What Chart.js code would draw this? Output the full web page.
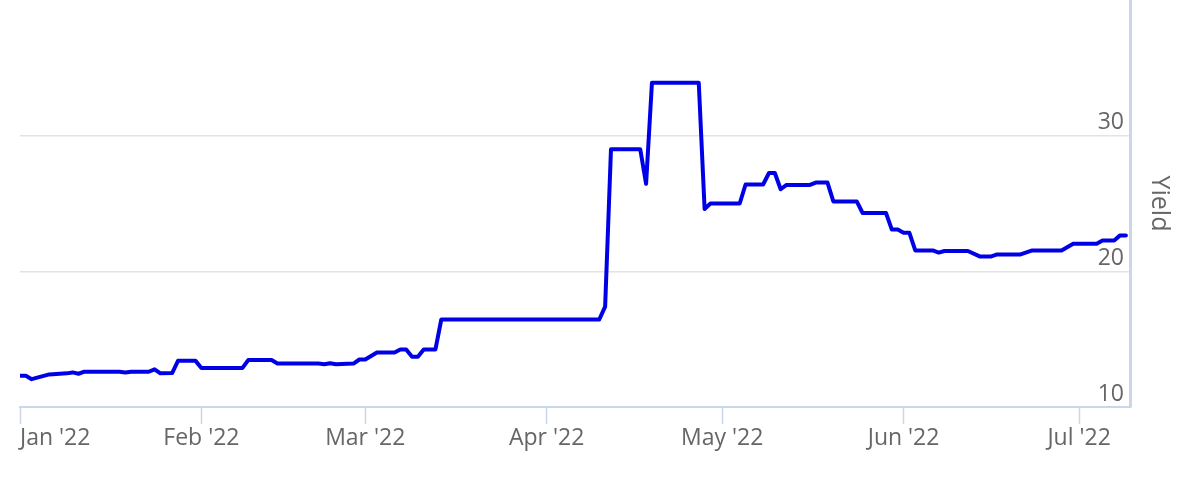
<!DOCTYPE html>
<html>
<head>
<meta charset="utf-8">
<script src="https://cdn.jsdelivr.net/npm/chart.js@4/dist/chart.umd.min.js"></script>
<style>
  html, body { margin: 0; padding: 0; background: #ffffff; }
  #wrap { width: 1200px; height: 490px; position: relative; }
</style>
</head>
<body>
<div id="wrap"><canvas id="c"></canvas></div>
<script>
// ---- data ----
const dates = [
  '2022-01-01','2022-01-02','2022-01-03','2022-01-06','2022-01-09','2022-01-10','2022-01-11','2022-01-12',
  '2022-01-18','2022-01-19','2022-01-20','2022-01-23','2022-01-24','2022-01-25','2022-01-27','2022-01-28',
  '2022-01-31','2022-02-01','2022-02-08','2022-02-09','2022-02-13','2022-02-14','2022-02-21','2022-02-22',
  '2022-02-23','2022-02-24','2022-02-27','2022-02-28','2022-03-01','2022-03-03','2022-03-06','2022-03-07',
  '2022-03-08','2022-03-09','2022-03-10','2022-03-11','2022-03-13','2022-03-14','2022-04-10','2022-04-11',
  '2022-04-12','2022-04-17','2022-04-18','2022-04-19','2022-04-27','2022-04-28','2022-04-29','2022-05-04',
  '2022-05-05','2022-05-08','2022-05-09','2022-05-10','2022-05-11','2022-05-12','2022-05-16','2022-05-17',
  '2022-05-19','2022-05-20','2022-05-24','2022-05-25','2022-05-29','2022-05-30','2022-05-31','2022-06-01',
  '2022-06-02','2022-06-03','2022-06-06','2022-06-07','2022-06-08','2022-06-12','2022-06-14','2022-06-16',
  '2022-06-17','2022-06-21','2022-06-23','2022-06-28','2022-06-30','2022-07-04','2022-07-05','2022-07-07',
  '2022-07-08','2022-07-09'
];
const yieldValues = [
  12.3, 12.3, 12.05, 12.4, 12.48, 12.55, 12.45, 12.6,
  12.6, 12.55, 12.6, 12.6, 12.78, 12.48, 12.5, 13.4,
  13.4, 12.87, 12.87, 13.46, 13.46, 13.2, 13.2, 13.15,
  13.22, 13.15, 13.2, 13.5, 13.5, 14.02, 14.02, 14.24,
  14.24, 13.7, 13.7, 14.24, 14.24, 16.45, 16.45, 17.4,
  29.0, 29.0, 26.45, 33.9, 33.9, 24.6, 25.0, 25.0,
  26.4, 26.4, 27.25, 27.25, 26.05, 26.37, 26.37, 26.54,
  26.54, 25.15, 25.15, 24.3, 24.3, 23.08, 23.08, 22.84,
  22.84, 21.54, 21.54, 21.38, 21.5, 21.5, 21.1, 21.1,
  21.25, 21.25, 21.54, 21.54, 22.04, 22.04, 22.28, 22.28,
  22.65, 22.65
];
const xTickDates = ['2022-01-01','2022-02-01','2022-03-01','2022-04-01','2022-05-01','2022-06-01','2022-07-01'];
const xTickLabels = ["Jan '22","Feb '22","Mar '22","Apr '22","May '22","Jun '22","Jul '22"];
const yTickValues = [10, 20, 30];
const yAxisTitle = 'Yield';
const xStartDate = '2022-01-01';
const xEndDate = '2022-07-10';

// ---- helpers ----
const DAY = 86400000;
function dayOf(s) { return (Date.parse(s + 'T00:00:00Z') - Date.parse(xStartDate + 'T00:00:00Z')) / DAY; }
const points = dates.map((d, i) => ({ x: dayOf(d), y: yieldValues[i] }));
const xTickDays = xTickDates.map(dayOf);
const xMax = dayOf(xEndDate) - 0.3;

const FONT = "'Open Sans', 'DejaVu Sans', sans-serif";
const AXIS_COLOR = '#ccd6eb';
const TEXT_COLOR = '#666666';

new Chart(document.getElementById('c'), {
  type: 'line',
  data: {
    datasets: [{
      data: points,
      borderColor: '#0000e6',
      borderWidth: 4,
      pointRadius: 0,
      pointHoverRadius: 0,
      tension: 0,
      fill: false,
      borderJoinStyle: 'round',
      borderCapStyle: 'round'
    }]
  },
  options: {
    responsive: true,
    maintainAspectRatio: false,
    animation: false,
    layout: { padding: { left: 20, right: 0, top: 0, bottom: 0 } },
    plugins: { legend: { display: false }, tooltip: { enabled: false } },
    scales: {
      x: {
        type: 'linear',
        position: 'bottom',
        min: 0,
        max: xMax,
        afterBuildTicks: (scale) => {
          scale.ticks = xTickDays.map(v => ({ value: v })).concat([{ value: xMax }]);
        },
        afterFit: (scale) => {
          scale.height = 83;
          scale.paddingLeft = 0;
          scale.paddingRight = 0;
        },
        grid: {
          drawOnChartArea: false,
          drawTicks: true,
          tickLength: 17,
          tickWidth: 1.5,
          tickColor: (ctx) => (ctx.index >= xTickDays.length ? 'rgba(0,0,0,0)' : AXIS_COLOR)
        },
        border: { display: true, color: AXIS_COLOR, width: 2 },
        ticks: {
          autoSkip: false,
          maxRotation: 0,
          minRotation: 0,
          align: 'inner',
          padding: 1,
          color: TEXT_COLOR,
          font: { family: FONT, size: 23 },
          callback: (value, index) => (index < xTickLabels.length ? xTickLabels[index] : '')
        }
      },
      y: {
        type: 'linear',
        position: 'right',
        min: 10,
        max: 40,
        afterBuildTicks: (scale) => {
          scale.ticks = yTickValues.map(v => ({ value: v }));
        },
        afterFit: (scale) => {
          scale.width = 70;
          scale.paddingTop = 0;
          scale.paddingBottom = 0;
        },
        grid: {
          drawTicks: false,
          lineWidth: 1.5,
          color: (ctx) => (ctx.tick && ctx.tick.value === 10 ? 'rgba(0,0,0,0)' : '#e3e3e3')
        },
        border: { display: true, color: AXIS_COLOR, width: 3 },
        ticks: {
          mirror: true,
          padding: -6,
          labelOffset: -13,
          color: TEXT_COLOR,
          font: { family: FONT, size: 23 }
        },
        title: {
          display: true,
          text: yAxisTitle,
          color: TEXT_COLOR,
          font: { family: FONT, size: 25 },
          padding: { top: 26, bottom: 0 }
        }
      }
    }
  }
});
</script>
</body>
</html>
